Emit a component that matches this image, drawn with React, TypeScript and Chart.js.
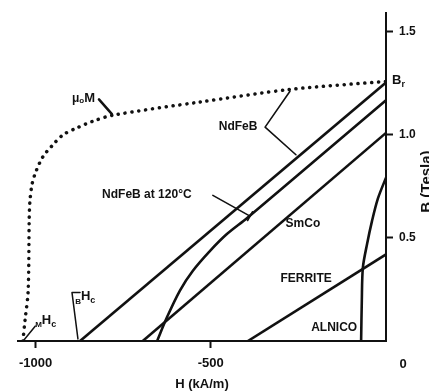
import { useEffect, useRef } from "react";
import { Chart, registerables } from "chart.js";

Chart.register(...registerables);

// Tick values
const hTicks = [-1000, -500];
const bTicks = [0.5, 1.0, 1.5];

// μ0M (intrinsic) dotted curve
const muMH = [-1036, -1030, -1021, -1018, -1016, -1010, -999, -979, -953, -922, -882, -836, -779, -531, -274, 0];
const muMB = [0, 0.1, 0.245, 0.596, 0.678, 0.76, 0.822, 0.894, 0.947, 1.0, 1.034, 1.067, 1.096, 1.16, 1.221, 1.26];

// NdFeB
const ndfebH = [-873, 0];
const ndfebB = [0, 1.255];

// NdFeB at 120°C
const ndfeb120H = [-653, -625, -588, -551, -502, -454, -397, -200, 0];
const ndfeb120B = [0, 0.115, 0.245, 0.341, 0.4375, 0.519, 0.596, 0.88, 1.168];

// SmCo
const smcoH = [-694, 0];
const smcoB = [0, 1.01];

// Ferrite
const ferriteH = [-394, 0];
const ferriteB = [0, 0.42];

// Alnico
const alnicoH = [-71, -69, -66, -54, -40, -23, 0];
const alnicoB = [0, 0.197, 0.356, 0.471, 0.582, 0.692, 0.793];

const pts = (hs: number[], bs: number[]) => hs.map((h, i) => ({ x: h, y: bs[i] }));

const FONT = '"Liberation Sans", Arial, Helvetica, sans-serif';
const INK = "#111";

const annotations = {
  id: "annotations",
  afterDraw(chart: any) {
    const { ctx } = chart;
    const x = chart.scales.x;
    const y = chart.scales.y;
    const P = (h: number, b: number) => [x.getPixelForValue(h), y.getPixelForValue(b)];
    ctx.save();
    ctx.fillStyle = INK;
    ctx.strokeStyle = INK;
    ctx.lineCap = "round";
    ctx.lineJoin = "round";
    const f = (s: number) => `bold ${s}px ${FONT}`;
    const text = (t: string, h: number, b: number, size: number, align: CanvasTextAlign = "center") => {
      const [px, py] = P(h, b);
      ctx.font = f(size);
      ctx.textAlign = align;
      ctx.textBaseline = "middle";
      ctx.fillText(t, px, py);
    };
    const line = (p: number[][], w: number) => {
      ctx.lineWidth = w;
      ctx.beginPath();
      p.forEach(([h, b], i) => {
        const [px, py] = P(h, b);
        if (i === 0) ctx.moveTo(px, py);
        else ctx.lineTo(px, py);
      });
      ctx.stroke();
    };
    // composite text: [text, size, dy]
    const comp = (parts: [string, number, number][], px: number, py: number) => {
      let cx = px;
      ctx.textAlign = "left";
      ctx.textBaseline = "middle";
      parts.forEach(([t, s, dy]) => {
        ctx.font = f(s);
        ctx.fillText(t, cx, py + dy);
        cx += ctx.measureText(t).width;
      });
    };

    // μ0M label + leader
    {
      const [px, py] = P(-896, 1.178);
      comp([["μ", 12, 0], ["o", 8, 3], ["M", 13, 0]], px, py);
      line([[-819, 1.173], [-782, 1.101]], 2.5);
    }
    // NdFeB label + bracket
    text("NdFeB", -422, 1.038, 12);
    line([[-274, 1.212], [-345, 1.038], [-257, 0.904]], 1.6);
    // NdFeB at 120°C
    text("NdFeB at 120°C", -810, 0.712, 12, "left");
    line([[-494, 0.707], [-388, 0.606]], 1.6);
    {
      const [ax, ay] = P(-494, 0.707);
      const [bx, by] = P(-388, 0.606);
      const dx = bx - ax, dy = by - ay;
      const L = Math.hypot(dx, dy);
      const nx = -dy / L, ny = dx / L;
      ctx.lineWidth = 1.6;
      ctx.beginPath();
      ctx.moveTo(bx - nx * 5, by - ny * 5);
      ctx.lineTo(bx + nx * 5, by + ny * 5);
      ctx.stroke();
    }
    text("SmCo", -237, 0.567, 12);
    text("FERRITE", -228, 0.303, 12);
    text("ALNICO", -148, 0.0625, 12);
    // Br
    {
      const [px, py] = P(0, 1.264);
      comp([["B", 13, 0], ["r", 9, 4]], px + 6, py);
    }
    // MHc
    {
      const [px, py] = P(-1001, 0.091);
      comp([["M", 8, 3], ["H", 13, -2], ["c", 9, 2]], px, py);
      line([[-1001, 0.072], [-1033, 0.005]], 1.5);
    }
    // BHc
    {
      const [px, py] = P(-887, 0.207);
      comp([["B", 8, 3], ["H", 13, -2], ["c", 9, 2]], px, py);
      line([[-873, 0.236], [-896, 0.236], [-879, 0.01]], 1.5);
    }
    // "0" under the origin
    {
      const [px, py] = P(0, 0);
      ctx.font = f(13);
      ctx.textAlign = "center";
      ctx.textBaseline = "middle";
      ctx.fillText("0", px + 17, py + 23);
    }
    // B (Tesla) axis title, reading bottom to top
    {
      const [, py] = P(0, 0.774);
      ctx.save();
      ctx.translate(427, py);
      ctx.rotate(-Math.PI / 2);
      ctx.font = f(15);
      ctx.textAlign = "center";
      ctx.textBaseline = "middle";
      ctx.fillText("B (Tesla)", 0, 0);
      ctx.restore();
    }
    ctx.restore();
  },
};

export default function App() {
  const ref = useRef<HTMLCanvasElement | null>(null);
  useEffect(() => {
    document.body.style.margin = "0";
    const canvas = ref.current;
    if (!canvas) return;
    const solid = (label: string, data: any[], tension = 0) => ({
      label,
      data,
      showLine: true,
      borderColor: INK,
      borderWidth: 2.6,
      pointRadius: 0,
      tension,
      fill: false,
    });
    const chart = new Chart(canvas, {
      type: "scatter",
      data: {
        datasets: [
          {
            label: "μ0M",
            data: pts(muMH, muMB),
            showLine: true,
            borderColor: INK,
            borderWidth: 3.5,
            borderDash: [0.1, 6.8],
            borderCapStyle: "round",
            pointRadius: 0,
            tension: 0.3,
            fill: false,
          } as any,
          solid("NdFeB", pts(ndfebH, ndfebB)),
          solid("NdFeB at 120°C", pts(ndfeb120H, ndfeb120B), 0.3),
          solid("SmCo", pts(smcoH, smcoB)),
          solid("Ferrite", pts(ferriteH, ferriteB)),
          solid("Alnico", pts(alnicoH, alnicoB), 0.3),
        ],
      },
      options: {
        responsive: false,
        animation: false,
        layout: { padding: { left: 18, top: 10, right: 0, bottom: 0 } },
        plugins: { legend: { display: false }, tooltip: { enabled: false } },
        scales: {
          x: {
            type: "linear",
            position: "bottom",
            min: -1050,
            max: 0,
            afterBuildTicks: (s: any) => {
              s.ticks = hTicks.map((v) => ({ value: v }));
            },
            afterFit: (s: any) => {
              s.height = 51;
            },
            grid: { drawOnChartArea: false, drawTicks: true, tickLength: 7, tickColor: INK, tickWidth: 2 },
            border: { display: true, color: INK, width: 2 },
            ticks: {
              color: INK,
              padding: 8,
              maxRotation: 0,
              font: { family: FONT, size: 13, weight: "bold" },
              callback: (v: any) => String(v),
            },
            title: {
              display: true,
              text: "H (kA/m)",
              color: INK,
              font: { family: FONT, size: 13, weight: "bold" },
              padding: { top: 0, bottom: 0 },
            },
          },
          y: {
            type: "linear",
            position: "right",
            min: 0,
            max: 1.591,
            afterBuildTicks: (s: any) => {
              s.ticks = bTicks.map((v) => ({ value: v }));
            },
            afterFit: (s: any) => {
              s.width = 43;
            },
            grid: { drawOnChartArea: false, drawTicks: true, tickLength: 7, tickColor: INK, tickWidth: 2 },
            border: { display: true, color: INK, width: 2 },
            ticks: {
              color: INK,
              padding: 6,
              font: { family: FONT, size: 12, weight: "bold" },
              callback: (v: any) => Number(v).toFixed(1),
            },
          },
        },
      },
      plugins: [annotations],
    } as any);
    return () => chart.destroy();
  }, []);
  return (
    <div style={{ width: 429, height: 392, background: "#fff" }}>
      <canvas ref={ref} width={429} height={392} style={{ display: "block" }} />
    </div>
  );
}
